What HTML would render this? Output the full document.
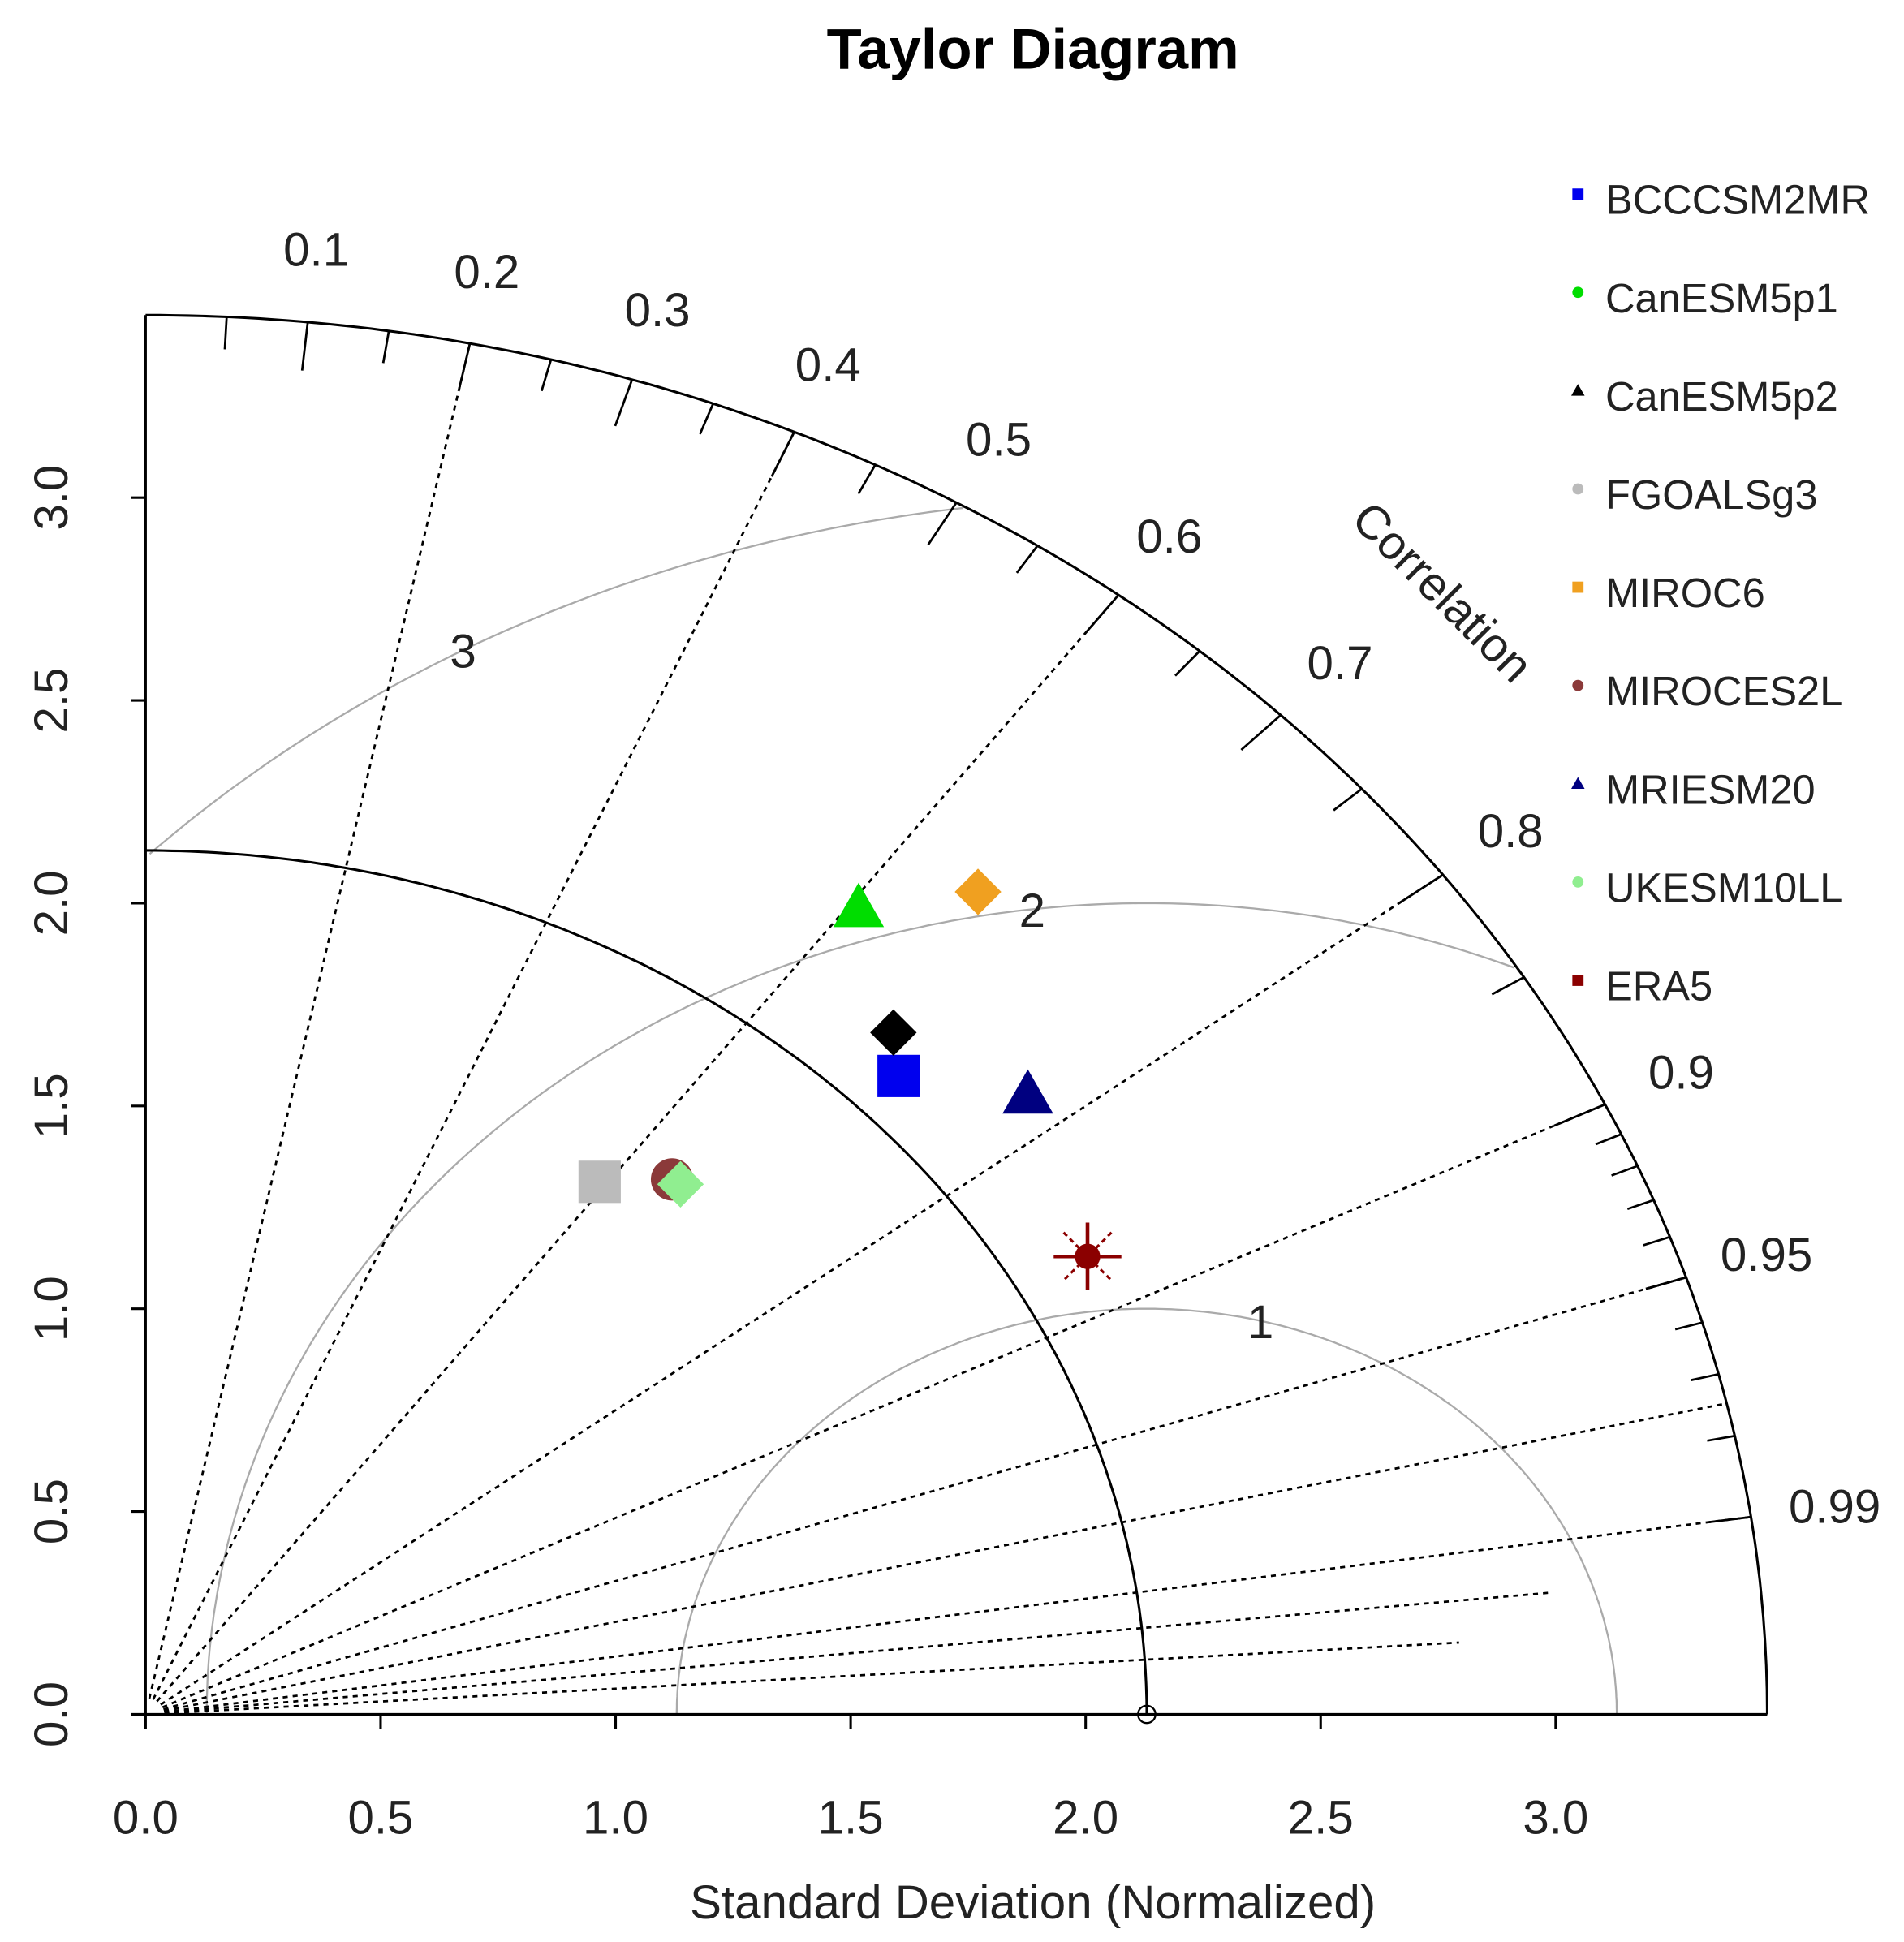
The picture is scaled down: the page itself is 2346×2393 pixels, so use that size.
<!DOCTYPE html>
<html><head><meta charset="utf-8"><style>
html,body{margin:0;padding:0;background:#fff;}
svg{display:block;}
text{font-family:"Liberation Sans",sans-serif;}
</style></head><body>
<svg id="chart" width="2346" height="2393" viewBox="0 0 1530 1561" preserveAspectRatio="none" xmlns="http://www.w3.org/2000/svg">
<text x="830" y="55" text-anchor="middle" font-size="46" font-weight="bold">Taylor Diagram</text>
<g id="grid"></g>
<g id="marks"></g>
<g id="legend"></g>
<text x="830" y="1542" text-anchor="middle" font-size="38" fill="#222">Standard Deviation (Normalized)</text>
<text transform="translate(1150,485) rotate(45)" text-anchor="middle" font-size="38" fill="#222">Correlation</text>
</svg>
<script>
const models = ["BCCCSM2MR","CanESM5p1","CanESM5p2","FGOALSg3","MIROC6","MIROCES2L","MRIESM20","UKESM10LL","ERA5"];
const sdX = [1.602,1.517,1.591,0.966,1.771,1.12,1.877,1.138,2.004];
const sdY = [1.574,1.988,1.681,1.313,2.028,1.319,1.528,1.307,1.129];
const colors = ["#0000ee","#00dd00","#000000","#bbbbbb","#f0a020","#8b3a3a","#000080","#90ee90","#8b0000"];
const shapes = ["square","triangle","diamond","square","diamond","circle","triangle","diamond","star"];
const legendShapes = ["square","circle","triangle","circle","square","circle","triangle","circle","square"];
const xTicks = [0,0.5,1,1.5,2,2.5,3];
const xTickLabels = ["0.0","0.5","1.0","1.5","2.0","2.5","3.0"];
const corrLabels = [0.1,0.2,0.3,0.4,0.5,0.6,0.7,0.8,0.9,0.95,0.99];
const corrLines = [0.2,0.4,0.6,0.8,0.9,0.95,0.975,0.99,0.995,0.998];
const corrLineLen = [3.45,3.45,3.45,3.45,3.45,3.45,3.45,3.45,3.0,2.8];
const rmsLevels = [1,2,3];
const rmsLabelAngles = [76,97,119];
const maxSD = 3.45, refSD = 2.13;

const NS="http://www.w3.org/2000/svg";
const X=u=>117+u*377.7, Y=v=>1378-v*326;
function mk(tag,attrs,parent,txt){const e=document.createElementNS(NS,tag);for(const k in attrs)e.setAttribute(k,attrs[k]);if(txt!==undefined)e.textContent=txt;parent.appendChild(e);return e;}
const grid=document.getElementById('grid'), marks=document.getElementById('marks'), legend=document.getElementById('legend');
function polar(r,c){return [X(r*c),Y(r*Math.sqrt(1-c*c))];}

rmsLevels.forEach((rl,i)=>{
  let pts=[];
  for(let a=0;a<=180;a+=0.5){const t=a*Math.PI/180;const x=refSD+rl*Math.cos(t),y=rl*Math.sin(t);if(Math.hypot(x,y)<=maxSD+0.001&&x>=0)pts.push(X(x).toFixed(1)+","+Y(y).toFixed(1));}
  const p=mk('polyline',{points:pts.join(' '),fill:'none',stroke:'#aaa','stroke-width':1.5},grid);
  
  
  const t=rmsLabelAngles[i]*Math.PI/180;
  const lb=mk('text',{x:X(refSD+rl*Math.cos(t)),y:Y(rl*Math.sin(t))+14,'text-anchor':'middle','font-size':38,fill:'#222'},grid,String(rl));
  
  
});
corrLines.forEach((c,i)=>{
  const [x1,y1]=polar(0.04,c);
  const [x2,y2]=polar(corrLineLen[i],c);
  const l=mk('line',{x1:x1,y1:y1,x2:x2,y2:y2,stroke:'#000','stroke-width':1.8,'stroke-dasharray':'4,4'},grid);
  
  
});
corrLabels.forEach(c=>{
  const [lx,ly]=polar(3.63,c);
  const t=mk('text',{x:lx,y:ly+13,'text-anchor':'middle','font-size':38,fill:'#222'},grid,String(c));
  
  
});
const minor=[];for(let c=0.05;c<0.951;c+=0.05)minor.push(+c.toFixed(2));for(let c=0.91;c<0.995;c+=0.01)minor.push(+c.toFixed(2));
minor.forEach(c=>{const major=corrLabels.includes(c);const fine=c>0.9;
  const len=fine?(major?0.09:0.06):(major?0.12:0.08);
  const [a,b]=polar(maxSD,c);const [d,e]=polar(maxSD-len,c);
  const l=mk('line',{x1:a,y1:b,x2:d,y2:e,stroke:'#000','stroke-width':1.8},grid);
  
  });
function arc(r,name){let pts=[];for(let a=0;a<=90;a+=0.5){const t=a*Math.PI/180;pts.push(X(r*Math.cos(t)).toFixed(1)+","+Y(r*Math.sin(t)).toFixed(1));}
  const p=mk('polyline',{points:pts.join(' '),fill:'none',stroke:'#000','stroke-width':2},grid);
  
  }
arc(maxSD,'outer-arc');arc(refSD,'reference-arc');
const rc=mk('circle',{cx:X(refSD),cy:Y(0),r:7,fill:'none',stroke:'#000','stroke-width':1.5},grid);


const ax=mk('line',{x1:X(0),y1:Y(0),x2:X(maxSD),y2:Y(0),stroke:'#000','stroke-width':2},grid);


const ay=mk('line',{x1:X(0),y1:Y(0),x2:X(0),y2:Y(maxSD),stroke:'#000','stroke-width':2},grid);


xTicks.forEach((v,i)=>{
  const tx=mk('line',{x1:X(v),y1:Y(0),x2:X(v),y2:Y(0)+12,stroke:'#000','stroke-width':2},grid);
  
  
  const lx=mk('text',{x:X(v),y:1474,'text-anchor':'middle','font-size':38,fill:'#222'},grid,xTickLabels[i]);
  
  
  const ty=mk('line',{x1:X(0),y1:Y(v),x2:X(0)-12,y2:Y(v),stroke:'#000','stroke-width':2},grid);
  
  
  const ly=mk('text',{transform:`translate(54,${Y(v)}) rotate(-90)`,'text-anchor':'middle','font-size':38,fill:'#222'},grid,xTickLabels[i]);
  
  
});
function shape(par,kind,cx,cy,s,col){
  if(kind==='square')return mk('rect',{x:cx-s,y:cy-s,width:2*s,height:2*s,fill:col},par);
  if(kind==='circle')return mk('circle',{cx:cx,cy:cy,r:s,fill:col},par);
  if(kind==='triangle')return mk('polygon',{points:`${cx},${cy-s*1.2} ${cx-s*1.2},${cy+s*0.9} ${cx+s*1.2},${cy+s*0.9}`,fill:col},par);
  if(kind==='diamond')return mk('polygon',{points:`${cx},${cy-s*1.1} ${cx+s*1.1},${cy} ${cx},${cy+s*1.1} ${cx-s*1.1},${cy}`,fill:col},par);
  const g=mk('g',{stroke:col,'stroke-width':3},par);
  for(let a=0;a<180;a+=45){const t=a*Math.PI/180;const diag=a%90!==0;mk('line',{x1:cx-s*1.6*Math.cos(t),y1:cy-s*1.6*Math.sin(t),x2:cx+s*1.6*Math.cos(t),y2:cy+s*1.6*Math.sin(t),'stroke-dasharray':diag?'4,3':'none','stroke-width':diag?2:3},g);}
  mk('circle',{cx:cx,cy:cy,r:s*0.6,fill:col,stroke:'none'},g);return g;
}
models.forEach((m,i)=>{
  const el=shape(marks,shapes[i],X(sdX[i]),Y(sdY[i]),17,colors[i]);
  
  
  const ly=160+79*i;
  const g=mk('g',{},legend);
  
  
  shape(g,legendShapes[i],1268,ly-4,4.5,colors[i]);
  mk('text',{x:1290,y:ly+12,'font-size':33,fill:'#222'},g,m);
});
</script>
</body></html>
